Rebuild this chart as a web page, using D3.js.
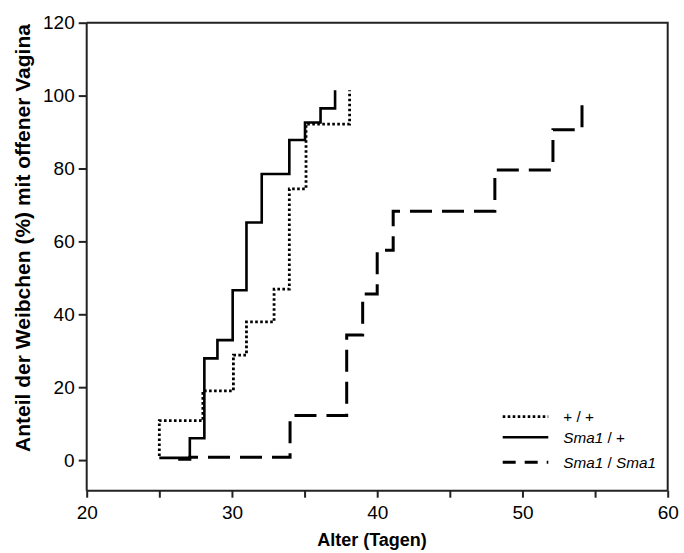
<!DOCTYPE html>
<html>
<head>
<meta charset="utf-8">
<script src="https://cdn.jsdelivr.net/npm/d3@7"></script>
<style>
    body { margin: 0; background: #fff; }
    svg { display: block; font-family: Arial, "Liberation Sans", sans-serif; }
</style>
</head>
<body>
<svg id="chart" width="684" height="553"></svg>
<script>
// +/+ (dotted)
var wtAge = [25, 25, 28, 30.1, 31, 32.9, 33.95, 35.1, 38.1];
var wtPct = [1.1, 10.8, 19, 28.8, 37.9, 46.9, 74.4, 92.2, 101.5];

// Sma1/+ (solid)
var hetAge = [25, 26.3, 26.3, 27.1, 28.1, 29, 30.05, 31, 32.05, 33.95, 35.03, 36.1, 37.1];
var hetPct = [0.6, 0.6, 0.6, 6, 27.9, 32.9, 46.6, 65.2, 78.5, 87.8, 92.6, 96.5, 101.5];

// Sma1/Sma1 (dashed)
var homAge = [26.3, 27.1, 34, 37.9, 39, 40, 41.1, 48.1, 52.1, 54.1];
var homPct = [0.2, 0.8, 12.2, 34.3, 45.6, 57.6, 68.3, 79.6, 90.6, 99.3];

var xTicks = [20, 25, 30, 35, 40, 45, 50, 55, 60];
var xLabels = [20, 30, 40, 50, 60];
var yTicks = [0, 20, 40, 60, 80, 100, 120];

(function(){
    var svg = d3.select("#chart");

    var margin = {top: 22.7, right: 16.3, bottom: 62.3, left: 86.7},
        width = +svg.attr("width") - margin.left - margin.right,
        height = +svg.attr("height") - margin.top - margin.bottom,
        g = svg.append("g").attr("transform", "translate(" + margin.left + "," + margin.top + ")");

    var x = d3.scaleLinear().domain([20, 60]).range([0, width]);
    var y = d3.scaleLinear().domain([-8.4, 120]).range([height, 0]);

    var line = d3.line()
        .x(function(d) { return x(d[0]); })
        .y(function(d) { return y(d[1]); })
        .curve(d3.curveStepAfter);

    var series = [
        {name: "wt", data: d3.zip(wtAge, wtPct), width: 2.8, dash: "2.6,2.4"},
        {name: "het", data: d3.zip(hetAge, hetPct), width: 2.6, dash: null},
        {name: "hom", data: d3.zip(homAge, homPct), width: 3, dash: "22,10"}
    ];

    // frame (top + right)
    g.append("path")
        .attr("d", "M0,0H" + width + "V" + height)
        .attr("fill", "none")
        .attr("stroke", "#222")
        .attr("stroke-width", 2);

    var xAxis = g.append("g")
        .attr("class", "axis axis--x")
        .attr("transform", "translate(0," + height + ")")
        .call(d3.axisBottom(x).tickValues(xTicks).tickSize(7).tickPadding(8)
            .tickFormat(function(d) { return xLabels.indexOf(d) >= 0 ? d : ""; }));

    var yAxis = g.append("g")
        .attr("class", "axis axis--y")
        .call(d3.axisLeft(y).tickValues(yTicks).tickSize(8).tickPadding(4));

    [xAxis, yAxis].forEach(function(a) {
        a.select(".domain").attr("stroke", "#222").attr("stroke-width", 2);
        a.selectAll(".tick line").attr("stroke", "#222").attr("stroke-width", 2);
        a.selectAll(".tick text")
            .attr("fill", "#000")
            .style("font-size", "19px")
            .style("font-family", "Arial, 'Liberation Sans', sans-serif");
    });
    yAxis.select(".domain").attr("d", "M0," + height + "V0");
    xAxis.select(".domain").attr("d", "M0,0H" + width);

    g.selectAll(".serie")
        .data(series)
        .enter().append("path")
        .attr("class", "serie")
        .attr("d", function(d) { return line(d.data); })
        .attr("fill", "none")
        .attr("stroke", "#000")
        .attr("stroke-width", function(d) { return d.width; })
        .attr("stroke-dasharray", function(d) { return d.dash; });

    // axis titles
    svg.append("text")
        .attr("x", 372)
        .attr("y", 546)
        .attr("text-anchor", "middle")
        .style("font-size", "18px")
        .style("font-weight", "bold")
        .text("Alter (Tagen)");

    svg.append("text")
        .attr("transform", "translate(30,238) rotate(-90)")
        .attr("text-anchor", "middle")
        .style("font-size", "21px")
        .style("font-weight", "bold")
        .text("Anteil der Weibchen (%) mit offener Vagina");

    // legend
    var legendItems = [
        {key: "wt", parts: [["+ / +", false]]},
        {key: "het", parts: [["Sma1", true], [" / +", false]]},
        {key: "hom", parts: [["Sma1", true], [" / ", false], ["Sma1", true]]}
    ];
    var legendY = [416.7, 437.3, 462.3];

    var legend = svg.selectAll(".legend")
        .data(legendItems)
        .enter().append("g")
        .attr("class", "legend")
        .attr("transform", function(d, i) { return "translate(502.7," + legendY[i] + ")"; })
        .style("font-size", "15.3px");

    legend.append("line")
        .attr("x1", 0)
        .attr("x2", 45.6)
        .attr("stroke", "#000")
        .attr("stroke-width", function(d, i) { return series[i].width; })
        .attr("stroke-dasharray", function(d, i) { return i == 2 ? "13,9" : series[i].dash; });

    var lt = legend.append("text")
        .attr("x", 60.6)
        .attr("dy", "0.35em")
        .attr("xml:space", "preserve");

    lt.selectAll("tspan")
        .data(function(d) { return d.parts; })
        .enter().append("tspan")
        .style("font-style", function(d) { return d[1] ? "italic" : "normal"; })
        .text(function(d) { return d[0]; });
})();
</script>
</body>
</html>
